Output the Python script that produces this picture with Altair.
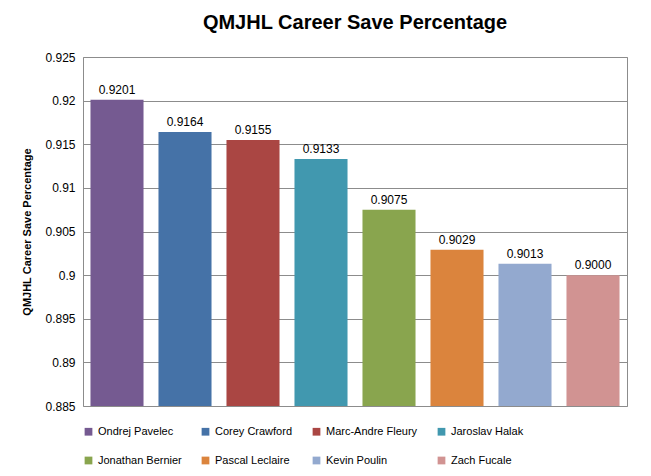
import altair as alt
import pandas as pd

players = ["Ondrej Pavelec", "Corey Crawford", "Marc-Andre Fleury", "Jaroslav Halak",
           "Jonathan Bernier", "Pascal Leclaire", "Kevin Poulin", "Zach Fucale"]
save_pct = [0.9201, 0.9164, 0.9155, 0.9133, 0.9075, 0.9029, 0.9013, 0.9000]
colors = ["#755A91", "#4572A7", "#AA4643", "#4198AF",
          "#89A54E", "#DB843D", "#93A9CF", "#D19392"]

df = pd.DataFrame({"player": players, "pct": save_pct, "base": 0.885})

x = alt.X("player:N", sort=players, axis=None, scale=alt.Scale(paddingInner=0.22, paddingOuter=0.11))
y = alt.Y("pct:Q", title="QMJHL Career Save Percentage",
          scale=alt.Scale(domain=[0.885, 0.925], zero=False, nice=False),
          axis=alt.Axis(values=[0.885 + 0.005 * i for i in range(9)], format="~g",
                        labelFontSize=12, titleFontSize=11, titleFontWeight="bold",
                        titlePadding=12, domain=False, ticks=False, labelPadding=8,
                        gridColor="#8c8c8c", labelColor="#000", titleColor="#000"))

bars = alt.Chart(df).mark_bar().encode(
    x=x, y=y, y2="base:Q",
    color=alt.Color("player:N", sort=players,
                    scale=alt.Scale(domain=players, range=colors),
                    legend=alt.Legend(orient="bottom", columns=4, title=None,
                                      symbolType="square", symbolSize=60,
                                      labelFontSize=11, columnPadding=18,
                                      rowPadding=17, offset=20, labelLimit=200,
                                      symbolStrokeWidth=0)),
)

labels = alt.Chart(df).mark_text(dy=-10, fontSize=12, color="#000").encode(
    x=x, y=y, text=alt.Text("pct:Q", format=".4f"))

chart = (bars + labels).properties(
    width=544, height=349,
    padding={"left": 13, "top": 5, "right": 5, "bottom": 5},
    title=alt.TitleParams("QMJHL Career Save Percentage", fontSize=20, fontWeight="bold",
                          font="Liberation Sans", offset=18, color="#000"),
).configure(font="Liberation Sans").configure_view(stroke="#8c8c8c")

chart.save("out.html", embed_options={"renderer": "svg", "actions": False})
